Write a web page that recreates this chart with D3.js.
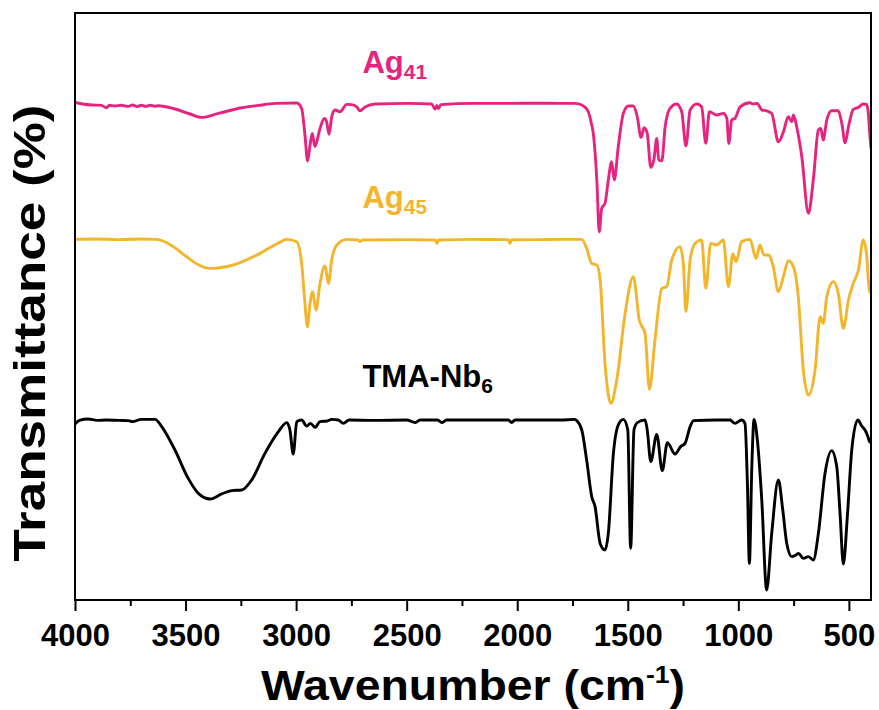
<!DOCTYPE html>
<html>
<head>
<meta charset="utf-8">
<script src="https://cdn.jsdelivr.net/npm/d3@7"></script>
<style>
  html, body { margin: 0; padding: 0; background: #fff; }
  svg text { font-family: "Liberation Sans", Arial, Helvetica, sans-serif; font-weight: bold; }
</style>
</head>
<body>
<svg id="chart" width="879" height="710"></svg>
<script>
// FTIR spectra: [wavenumber (cm-1), transmittance (%)]
const tmaNb6 = [
  [4000, 98], [3980, 99.8], [3940, 100.5], [3900, 99.8], [3860, 100], [3800, 99.8], [3759, 99.7],
  [3740, 99.2], [3700, 100.3], [3638, 100.3], [3608, 96.7], [3548, 85], [3488, 70.8], [3442, 63.3],
  [3389, 60.5], [3337, 63], [3291, 64.7], [3246, 65], [3201, 70], [3141, 83.3], [3080, 94.2],
  [3042, 98.7], [3028, 95], [3013, 83], [2997, 99.2], [2975, 100], [2952, 97], [2935, 98.3],
  [2914, 96.3], [2892, 99.2], [2860, 99.5], [2839, 100.3], [2809, 100], [2786, 98.3], [2760, 100],
  [2650, 99.8], [2500, 100], [2462, 98.7], [2440, 100], [2360, 100], [2341, 98.7], [2320, 100],
  [2040, 100], [2025, 98.7], [2010, 100], [1806, 100], [1739, 100.3], [1731, 99.7], [1708, 95],
  [1686, 80], [1663, 61.7], [1648, 56.7], [1625, 38.3], [1603, 35], [1588, 43.3], [1565, 83.3],
  [1543, 97.5], [1520, 100.3], [1500, 95], [1487, 35.8], [1472, 95], [1457, 98.7], [1422, 100],
  [1412, 95], [1396, 79.2], [1369, 92.8], [1344, 74.7], [1321, 88.7], [1286, 83], [1261, 86.7],
  [1241, 88.3], [1218, 96.7], [1203, 99.7], [1100, 100], [1038, 100], [1015, 98.3], [985, 100],
  [970, 98.3], [959, 68.3], [950, 28.3], [939, 76.7], [929, 100.3], [914, 90], [894, 60], [872, 15],
  [849, 43.3], [819, 70], [799, 55], [781, 38.3], [758, 31.7], [740, 32.5], [728, 33.3], [706, 30.8],
  [683, 31.7], [661, 30], [638, 43.3], [608, 73.3], [578, 84.7], [555, 76.7], [540, 53.3], [525, 28],
  [507, 51.7], [487, 85], [460, 100], [442, 97], [427, 95], [415, 92], [405, 89], [400, 91]
];

const ag45 = [
  [4000, 100.3], [3900, 100.5], [3800, 100.2], [3700, 100.5], [3630, 100.3], [3560, 97], [3495, 91.6],
  [3440, 87.5], [3389, 85.8], [3284, 87.5], [3163, 93.3], [3080, 98.5], [3042, 100.3], [2997, 99.1],
  [2975, 88.3], [2960, 68.3], [2949, 56.6], [2937, 68.3], [2925, 74.1], [2910, 65], [2892, 78.3],
  [2869, 87], [2854, 78.3], [2839, 90], [2816, 97.5], [2771, 100.3], [2720, 100], [2711, 99.2],
  [2700, 100], [2500, 100.2], [2370, 100], [2364, 98.3], [2355, 100], [2200, 100.3], [2040, 100.2],
  [2033, 98.3], [2025, 100.1], [1900, 100.2], [1806, 100.3], [1708, 100.3], [1686, 95.8], [1663, 88.3],
  [1640, 87.5], [1625, 80], [1603, 38.3], [1576, 18.3], [1550, 30], [1512, 63.3], [1475, 81.7],
  [1448, 60], [1422, 53.3], [1402, 25.3], [1377, 50], [1346, 75.8], [1324, 76.7], [1301, 90],
  [1264, 96.7], [1249, 88.3], [1237, 64.2], [1218, 90], [1196, 98.3], [1166, 100], [1147, 75.8],
  [1125, 98.3], [1098, 97.5], [1068, 100], [1045, 76.7], [1025, 93], [1010, 89.2], [985, 99.2],
  [947, 100.3], [920, 90.8], [902, 97.5], [884, 92.5], [864, 92.5], [842, 86.7], [819, 74.2],
  [796, 81.7], [774, 89.7], [751, 86.7], [729, 71.7], [706, 35], [683, 22.5], [653, 35], [630, 61.7],
  [616, 58.3], [600, 71.7], [570, 79.2], [548, 73.3], [525, 55.8], [502, 70], [480, 78.3], [457, 85],
  [435, 100], [420, 93], [412, 80], [405, 74], [400, 76]
];

const ag41 = [
  [4000, 100.3], [3960, 99.4], [3920, 99.0], [3880, 98.8], [3857, 97.6], [3845, 98.9], [3820, 98.5],
  [3790, 98.9], [3760, 98.3], [3740, 99.0], [3720, 98.2], [3700, 98.9], [3680, 98.3], [3660, 98.9],
  [3640, 98.4], [3623, 98.6], [3548, 97.0], [3480, 94.5], [3427, 92.8], [3352, 94.8], [3246, 97.6],
  [3170, 98.8], [3095, 99.8], [2997, 100], [2975, 97.3], [2960, 84], [2948, 71], [2937, 79],
  [2927, 84.8], [2915, 78.2], [2892, 87.3], [2872, 92.3], [2862, 90.6], [2851, 84.3], [2839, 93.1],
  [2824, 96.5], [2801, 95.6], [2771, 99.3], [2749, 99.2], [2726, 98.1], [2711, 96.1], [2688, 98],
  [2643, 99.5], [2493, 99.8], [2387, 99.5], [2372, 97], [2364, 98.8], [2357, 97.2], [2345, 99.2],
  [2200, 99.8], [2040, 99.8], [1900, 99.9], [1806, 99.8], [1739, 99.8], [1708, 99.0], [1690, 97.5],
  [1678, 95.5], [1665, 90], [1656, 84.8], [1640, 61.5], [1629, 35.6], [1618, 47.3], [1603, 49.8],
  [1588, 61.5], [1573, 70.6], [1561, 61.5], [1543, 78.1], [1520, 94.8], [1497, 98.5], [1475, 98.5],
  [1457, 93.1], [1440, 82.8], [1426, 87.6], [1412, 84.8], [1396, 67.8], [1381, 72.3], [1369, 82.3],
  [1360, 71.5], [1346, 71.1], [1331, 88.1], [1309, 97.3], [1279, 99.5], [1256, 95.6], [1237, 78.5],
  [1218, 96.5], [1188, 99.5], [1166, 98.1], [1147, 79.8], [1131, 95.6], [1098, 94], [1068, 94.8],
  [1052, 92.3], [1043, 79.8], [1030, 91.5], [1015, 92.3], [992, 98.1], [947, 100.1], [932, 99.5],
  [915, 99.8], [894, 96.5], [872, 96.1], [849, 94.8], [819, 80.6], [796, 85.6], [774, 93.1],
  [758, 90.6], [751, 94], [736, 88.1], [713, 73.1], [683, 44.8], [661, 61.5], [638, 86.5],
  [627, 87.3], [616, 81.5], [600, 91.5], [578, 96.1], [548, 96.1], [532, 89.8], [517, 80.1],
  [502, 88.1], [480, 96.8], [457, 97.8], [435, 99.5], [420, 99.3], [412, 95], [406, 85], [400, 77.5]
];

const seriesData = [tmaNb6, ag45, ag41];
const seriesOffsets = [0, 90, 158.5];            // vertical stacking offsets (% units)
const seriesColors = ["#000000", "#F2B52C", "#E6247F"];
const labelMain = ["TMA-Nb", "Ag", "Ag"];
const labelSub = ["6", "45", "41"];
const labelAt = [[2700, 116.5], [2700, 206], [2700, 273.5]]; // [wavenumber, stacked value]

const majorTicks = [4000, 3500, 3000, 2500, 2000, 1500, 1000, 500];
const minorTicks = [3750, 3250, 2750, 2250, 1750, 1250, 750];

const margin = { top: 13, right: 8, bottom: 110, left: 75 };
const width = 879, height = 710;

const svg = d3.select("#chart");

const x = d3.scaleLinear().domain([4000, 400]).range([margin.left, width - margin.right]);
const y = d3.scaleLinear().domain([10, 303.5]).range([height - margin.bottom, margin.top]);

const clipId = "plot-clip";
svg.append("clipPath").attr("id", clipId)
  .append("rect")
  .attr("x", margin.left).attr("y", margin.top)
  .attr("width", width - margin.left - margin.right)
  .attr("height", height - margin.top - margin.bottom);

// spectra
const plot = svg.append("g").attr("clip-path", `url(#${clipId})`);
seriesData.forEach((data, i) => {
  const line = d3.line()
    .x(d => x(d[0]))
    .y(d => y(d[1] + seriesOffsets[i]))
    .curve(d3.curveMonotoneX);
  plot.append("path")
    .datum(data)
    .attr("fill", "none")
    .attr("stroke", seriesColors[i])
    .attr("stroke-width", 2.9)
    .attr("stroke-linejoin", "round")
    .attr("d", line);
});

// bottom axis: major ticks with labels, minor ticks without
const axisY = height - margin.bottom;
const major = svg.append("g")
  .attr("transform", `translate(0,${axisY})`)
  .call(d3.axisBottom(x).tickValues(majorTicks).tickFormat(d3.format("d"))
    .tickSize(11).tickSizeOuter(0).tickPadding(13));
major.select(".domain").remove();
major.selectAll(".tick line").attr("stroke", "#000").attr("stroke-width", 2);
major.selectAll(".tick text")
  .attr("fill", "#000")
  .style("font-size", "31px")
  .style("font-family", "'Liberation Sans', Arial, sans-serif")
  .style("font-weight", "bold");

const minor = svg.append("g")
  .attr("transform", `translate(0,${axisY})`)
  .call(d3.axisBottom(x).tickValues(minorTicks).tickFormat("").tickSize(6).tickSizeOuter(0));
minor.select(".domain").remove();
minor.selectAll(".tick line").attr("stroke", "#000").attr("stroke-width", 2);

// frame
svg.append("rect")
  .attr("x", margin.left).attr("y", margin.top)
  .attr("width", width - margin.left - margin.right)
  .attr("height", height - margin.top - margin.bottom)
  .attr("fill", "none")
  .attr("stroke", "#000")
  .attr("stroke-width", 2);

// series labels
labelMain.forEach((m, i) => {
  const t = svg.append("text")
    .attr("x", x(labelAt[i][0]))
    .attr("y", y(labelAt[i][1]))
    .attr("fill", seriesColors[i])
    .style("font-size", "31px");
  t.append("tspan").text(m);
  t.append("tspan").attr("dy", 6).style("font-size", "21px").text(labelSub[i]);
});

// axis titles
const xt = svg.append("text")
  .attr("x", (margin.left + width - margin.right) / 2)
  .attr("y", 700)
  .attr("text-anchor", "middle")
  .attr("textLength", 424)
  .attr("lengthAdjust", "spacingAndGlyphs")
  .style("font-size", "42px");
xt.append("tspan").text("Wavenumber (cm");
xt.append("tspan").attr("dy", -17).style("font-size", "24px").text("-1");
xt.append("tspan").attr("dy", 17).text(")");

svg.append("text")
  .attr("transform", `translate(45,${333}) rotate(-90)`)
  .attr("text-anchor", "middle")
  .attr("textLength", 457)
  .attr("lengthAdjust", "spacingAndGlyphs")
  .style("font-size", "44px")
  .text("Transmittance (%)");
</script>
</body>
</html>
